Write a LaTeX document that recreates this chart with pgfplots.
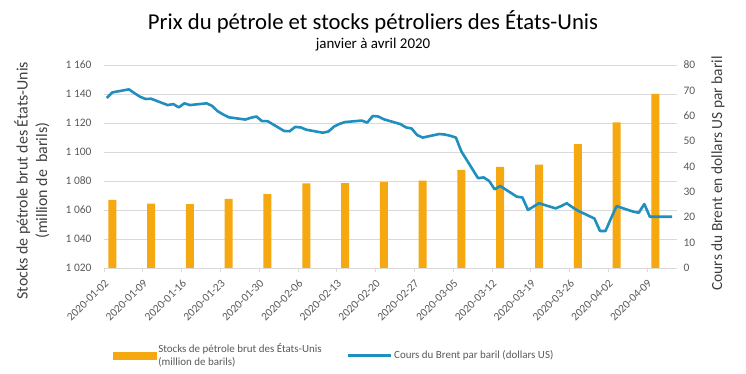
\documentclass[border=0pt]{standalone}
\usepackage{fontspec}
\setmainfont{Carlito}
\usepackage{pgfplots}
\pgfplotsset{compat=1.18}
\definecolor{barorange}{HTML}{F5A80F}
\definecolor{brentblue}{HTML}{1F8FBF}
\definecolor{gridgray}{HTML}{D9D9D9}
\definecolor{ticktext}{HTML}{595959}
\definecolor{labeltext}{HTML}{404040}
\begin{document}
\begin{tikzpicture}
\path[use as bounding box] (0,0) rectangle (746bp,374bp);
\begin{axis}[
  at={(104bp,106bp)}, anchor=south west,
  scale only axis, width=573bp, height=203bp,
  xmin=0, xmax=103.4,
  ymin=1020, ymax=1160,
  axis x line*=bottom, axis y line*=left,
  y axis line style={draw=none},
  x axis line style={draw=gridgray, line width=0.9bp},
  ytick={1020,1040,...,1160},
  yticklabels={1 020,1 040,1 060,1 080,1 100,1 120,1 140,1 160},
  ytick style={draw=none},
  yticklabel style={font=\fontsize{11.5}{13}\selectfont, text=ticktext, xshift=-5bp},
  xtick={0,7,...,98},
  xticklabels={2020-01-02,2020-01-09,2020-01-16,2020-01-23,2020-01-30,2020-02-06,2020-02-13,2020-02-20,2020-02-27,2020-03-05,2020-03-12,2020-03-19,2020-03-26,2020-04-02,2020-04-09},
  xtick style={draw=gridgray, line width=0.8bp},
  tick align=outside, major tick length=4bp,
  xticklabel shift=5bp,
  xticklabel style={rotate=45, anchor=north east, font=\fontsize{11.5}{13}\selectfont, text=ticktext, inner sep=1bp},
  ymajorgrids,
  major grid style={draw=gridgray, line width=0.9bp},
  ylabel={Stocks de pétrole brut des États-Unis\\(million de\ \ barils)},
  ylabel style={at={(axis description cs:-0.126,0.43)}, anchor=center, align=center, font=\fontsize{16}{19.5}\selectfont, text=labeltext},
  title={{\fontsize{22.8}{24}\selectfont Prix du pétrole et stocks pétroliers des États-Unis}\\[4bp]{\fontsize{15}{17}\selectfont janvier à avril 2020}},
  title style={at={(axis description cs:0.4695,1)}, anchor=south, align=center, yshift=4bp, text=black},
]
\addplot[ybar, bar width=1.45, fill=barorange, draw=none] coordinates {
(1.5,1067.0) (8.5,1064.4) (15.5,1064.0) (22.5,1067.6) (29.5,1071.0)
(36.5,1078.4) (43.5,1078.6) (50.5,1079.2) (57.5,1080.2) (64.5,1087.6)
(71.5,1089.7) (78.5,1091.3) (85.5,1105.5) (92.5,1120.5) (99.5,1140.0)
};
\end{axis}
\begin{axis}[
  at={(104bp,106bp)}, anchor=south west,
  scale only axis, width=573bp, height=203bp,
  xmin=0, xmax=103.4,
  ymin=0, ymax=80,
  axis x line=none,
  axis y line*=right,
  y axis line style={draw=none},
  ytick={0,10,...,80},
  ytick style={draw=none},
  /pgf/number format/assume math mode=true,
  yticklabel style={font=\fontsize{11.5}{13}\selectfont, text=ticktext, xshift=3bp},
  ylabel={Cours du Brent en dollars US par baril},
  ylabel style={at={(axis description cs:1.0716,0.466)}, anchor=center, font=\fontsize{15.5}{18}\selectfont, text=labeltext},
  legend columns=2,
  legend style={at={(axis description cs:0.01,-0.43)}, anchor=west, draw=none, fill=none,
    font=\fontsize{11}{13}\selectfont, text=ticktext, cells={align=left},
    /tikz/every even column/.append style={column sep=23bp}},
]
\addlegendimage{legend image code/.code={\fill[barorange] (0bp,-3.5bp) rectangle (43bp,3.5bp);}}
\addlegendentry{Stocks de pétrole brut des États-Unis\\(million de barils)}
\addplot[brentblue, line width=2.6bp, line join=round,
  legend image code/.code={\draw[brentblue, line width=2.6bp] (0bp,0bp) -- (43bp,0bp);}] coordinates {
(0.5,67.0) (1.5,69.2) (4.5,70.4) (5.5,68.9) (6.5,67.5) (7.5,66.6) (8.5,66.7)
(11.5,64.2) (12.5,64.6) (13.5,63.3) (14.5,64.9) (15.5,64.2)
(18.5,64.9) (19.5,63.9) (20.5,61.8) (21.5,60.5) (22.5,59.4)
(25.5,58.5) (26.5,59.2) (27.5,59.7) (28.5,57.9) (29.5,57.9)
(32.5,54.0) (33.5,53.9) (34.5,55.6) (35.5,55.4) (36.5,54.5)
(39.5,53.3) (40.5,53.8) (41.5,55.7) (42.5,56.8) (43.5,57.5)
(46.5,58.1) (47.5,57.3) (48.5,59.9) (49.5,59.7) (50.5,58.6)
(53.5,56.7) (54.5,55.4) (55.5,55.0) (56.5,52.4) (57.5,51.4)
(60.5,52.8) (61.5,52.6) (62.5,52.1) (63.5,51.4) (64.5,45.9)
(67.5,35.4) (68.5,35.7) (69.5,34.3) (70.5,31.0) (71.5,32.3)
(74.5,28.1) (75.5,27.8) (76.5,22.9) (77.5,24.2) (78.5,25.5)
(81.5,23.5) (82.5,24.4) (83.5,25.5) (84.5,24.0) (85.5,22.6)
(88.5,19.5) (89.5,14.6) (90.5,14.6) (91.5,19.6) (92.5,24.4)
(95.5,22.2) (96.5,21.8) (97.5,25.2) (98.5,20.2) (99.5,20.2) (102.5,20.2)
};
\addlegendentry{Cours du Brent par baril (dollars US)}
\end{axis}
\end{tikzpicture}
\end{document}
